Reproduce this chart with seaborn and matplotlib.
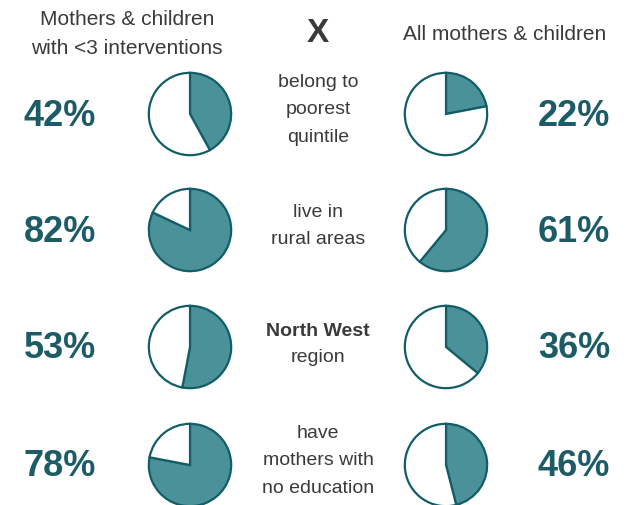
import matplotlib
matplotlib.use("Agg")
import matplotlib.pyplot as plt
import seaborn as sns

sns.set_theme(style="white")
plt.rcParams['font.family'] = ['Liberation Sans', 'DejaVu Sans']

# data
group_left = "Mothers & children\nwith <3 interventions"
group_right = "All mothers & children"
labels = ["belong to\npoorest\nquintile", "live in\nrural areas", "North West\nregion", "have\nmothers with\nno education"]
pct_left = [42, 82, 53, 78]
pct_right = [22, 61, 36, 46]

fill = "#4a9199"
edge = "#135d68"
pct_color = "#1d5c66"
txt_color = "#3a3a3a"

W, H = 636, 506
fig = plt.figure(figsize=(W / 100, H / 100), dpi=100)
fig.patch.set_facecolor("white")

# header
fig.text(127 / W, 1 - 34 / H, group_left, ha="center", va="center", fontsize=15,
         color=txt_color, linespacing=1.7)
fig.text(318 / W, 1 - 34 / H, "X", ha="center", va="center", fontsize=24,
         fontweight="bold", color=txt_color)
fig.text(505 / W, 1 - 34 / H, group_right, ha="center", va="center", fontsize=15,
         color=txt_color)

row_y = [115, 231, 348, 466]
r = 42


def draw_pie(cx, cy, value):
    ax = fig.add_axes([(cx - r) / W, 1 - (cy + r) / H, 2 * r / W, 2 * r / H])
    ax.pie([value, 100 - value], colors=[fill, "white"], startangle=90,
           counterclock=False, radius=1,
           wedgeprops=dict(edgecolor=edge, linewidth=1.6))
    ax.set_xlim(-1.02, 1.02)
    ax.set_ylim(-1.02, 1.02)
    ax.set_aspect("equal")
    ax.axis("off")


for i, (lab, pl, pr) in enumerate(zip(labels, pct_left, pct_right)):
    y = row_y[i]
    draw_pie(190, y, pl)
    draw_pie(446, y, pr)
    fig.text(60 / W, 1 - (y + 1) / H, f"{pl}%", ha="center", va="center",
             fontsize=26, fontweight="bold", color=pct_color)
    fig.text(574 / W, 1 - (y + 1) / H, f"{pr}%", ha="center", va="center",
             fontsize=26, fontweight="bold", color=pct_color)
    if lab.startswith("North West"):
        first, rest = lab.split("\n", 1)
        fig.text(318 / W, 1 - 332 / H, first, ha="center", va="center",
                 fontsize=14, fontweight="bold", color=txt_color)
        fig.text(318 / W, 1 - 357 / H, rest, ha="center", va="center",
                 fontsize=14, color=txt_color)
    else:
        fig.text(318 / W, 1 - (y - 5) / H, lab, ha="center", va="center",
                 fontsize=14, color=txt_color, linespacing=1.78)

fig.savefig("out.png", dpi=100, facecolor="white")
